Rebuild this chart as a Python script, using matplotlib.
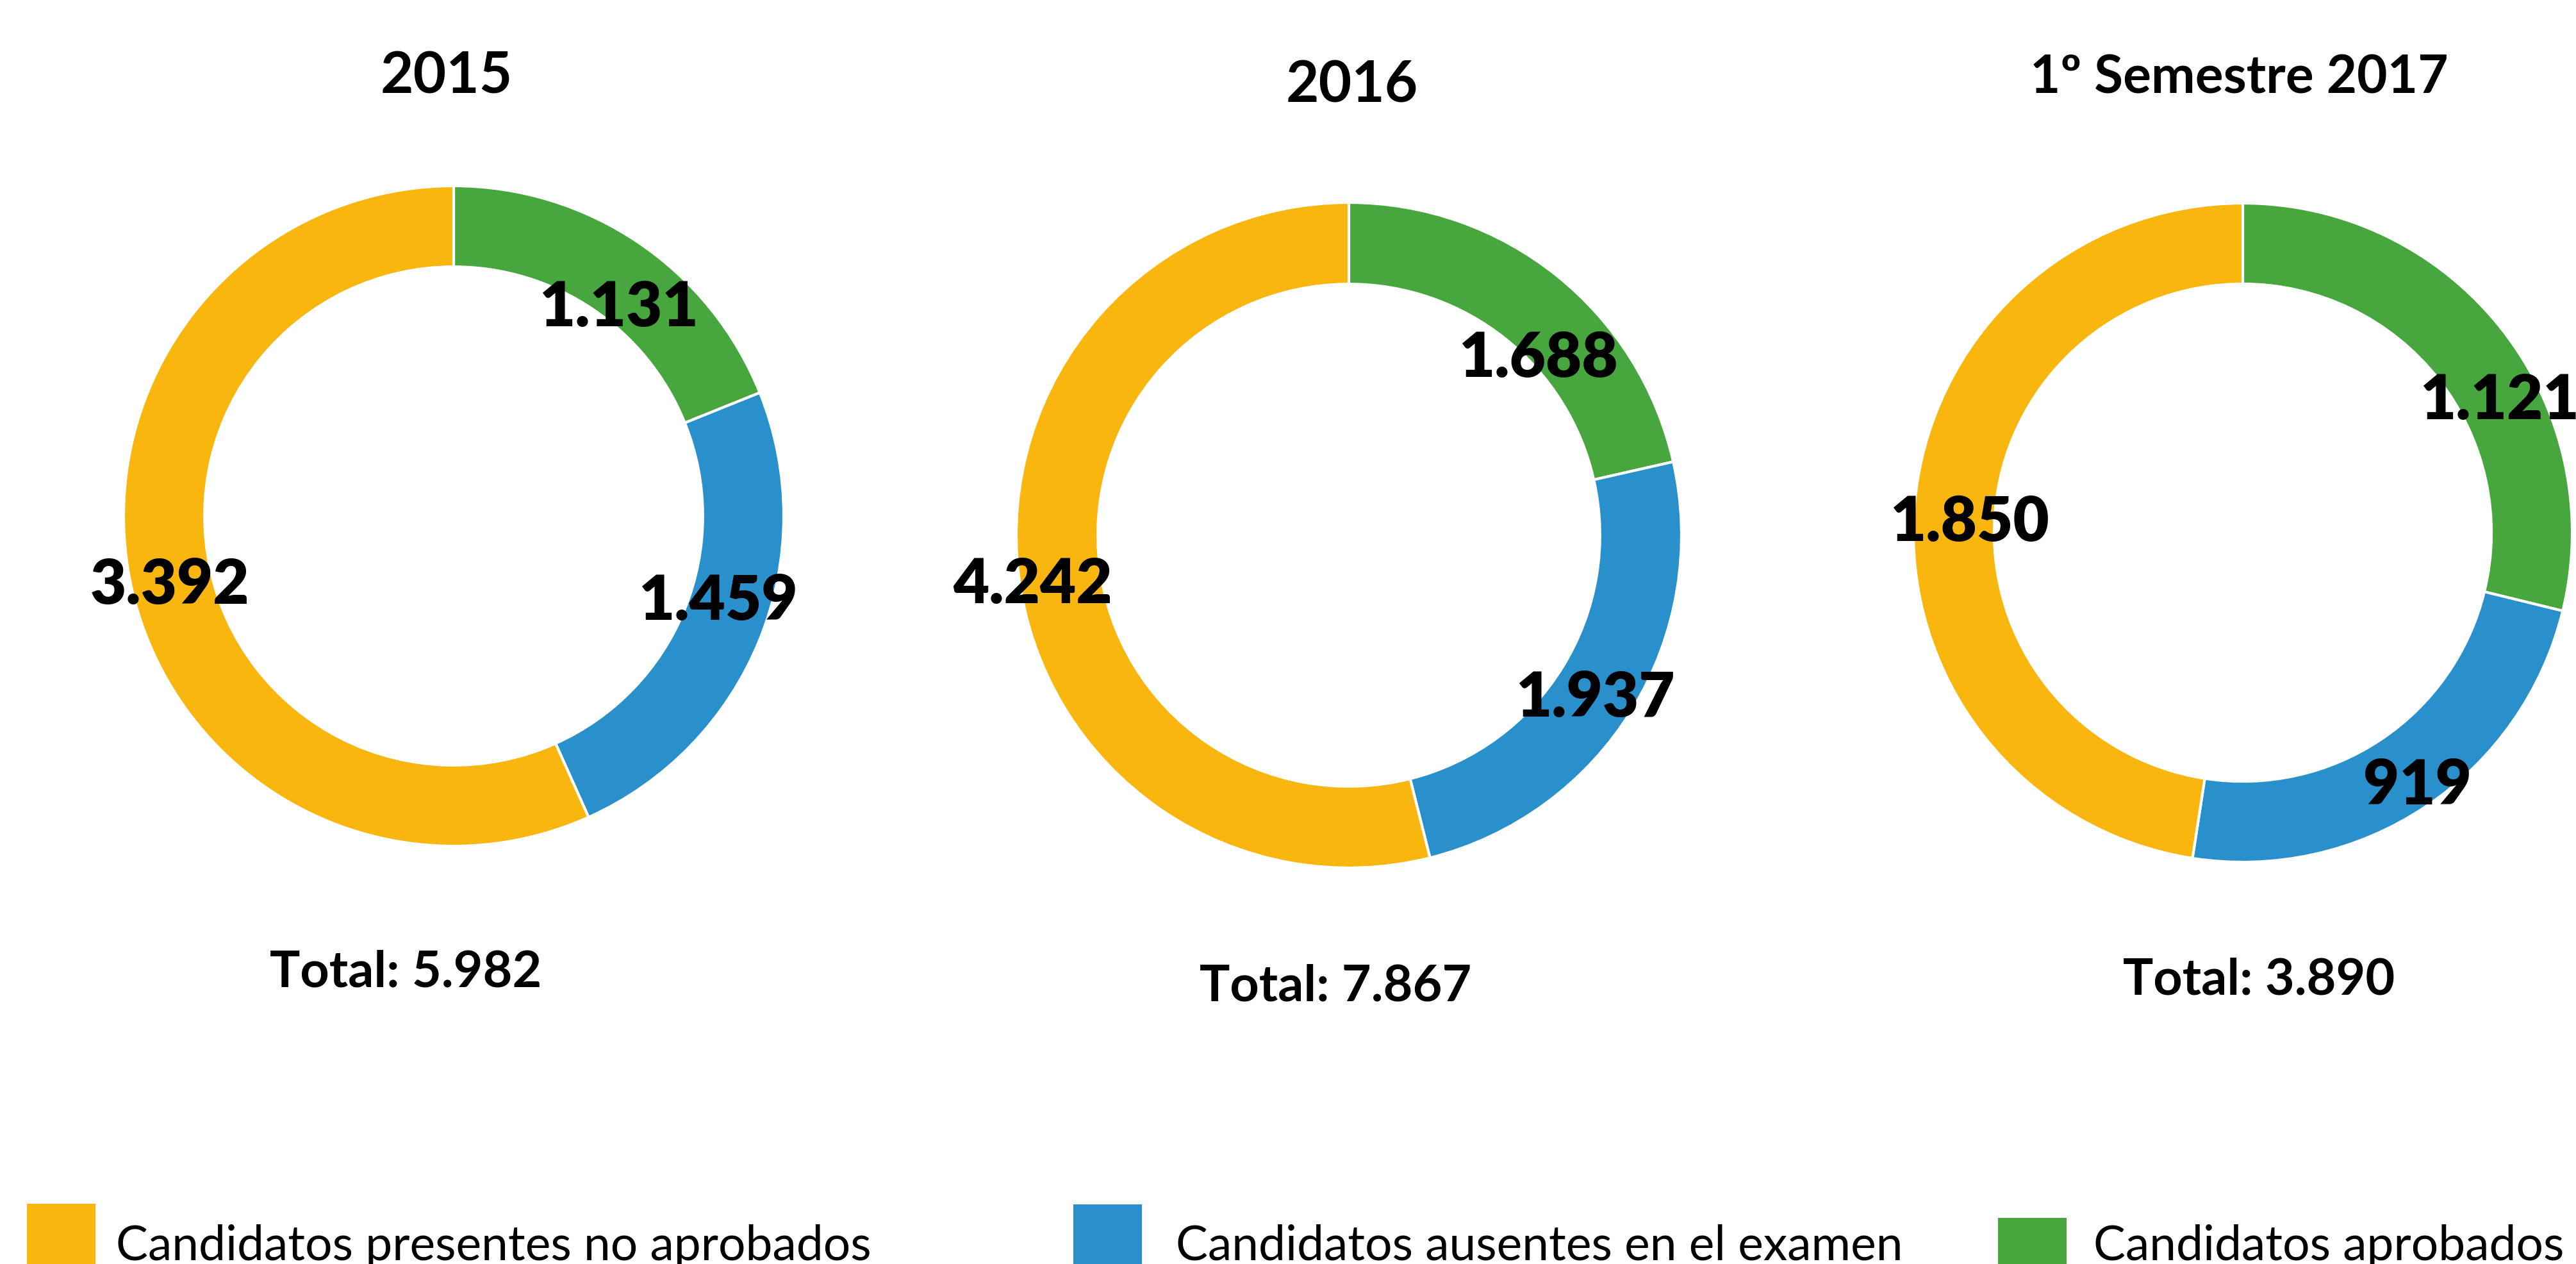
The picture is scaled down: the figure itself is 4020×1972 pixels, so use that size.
import matplotlib
matplotlib.use('Agg')
import matplotlib.pyplot as plt
from matplotlib.patches import Rectangle

plt.rcParams['font.family'] = ['Lato', 'DejaVu Sans']

# datos
periodos = ['2015', '2016', '1º Semestre 2017']
categorias = ['Candidatos aprobados', 'Candidatos ausentes en el examen',
              'Candidatos presentes no aprobados']
aprobados = [1131, 1688, 1121]
ausentes = [1459, 1937, 919]
no_aprobados = [3392, 4242, 1850]
colores = ['#48A63E', '#2A90CB', '#F8B60F']

W, H = 4020, 1972

# centro (px) y radio (px) de cada anillo
centros = [(708, 805, 515), (2105, 835, 519), (3500, 831, 514)]
# posicion de las etiquetas, en radios, para aprobados / ausentes / no aprobados
pos_etiquetas = [
    [(0.50, 0.63), (0.80, -0.26), (-0.86, -0.21)],
    [(0.57, 0.53), (0.74, -0.49), (-0.95, -0.15)],
    [(0.78, 0.40), (0.53, -0.77), (-0.83, 0.03)],
]
pos_titulos = [(697, 120), (2110, 133), (3494, 122)]
tam_titulos = [64, 64, 59]
pos_totales = [(633, 1518), (2084, 1540), (3525, 1530)]


def fmt(n):
    return '{:,}'.format(n).replace(',', '.')


fig = plt.figure(figsize=(W / 100, H / 100), dpi=100)

for i in range(len(periodos)):
    cx, cy, r = centros[i]
    ax = fig.add_axes([(cx - r) / W, 1 - (cy + r) / H, 2 * r / W, 2 * r / H])
    vals = [aprobados[i], ausentes[i], no_aprobados[i]]
    ax.pie(vals, colors=colores, startangle=90, counterclock=False,
           wedgeprops=dict(width=0.245, edgecolor='white', linewidth=3))
    ax.set_xlim(-1, 1)
    ax.set_ylim(-1, 1)
    ax.axis('off')
    for v, (x, y) in zip(vals, pos_etiquetas[i]):
        ax.text(x, y, fmt(v), ha='center', va='center', fontsize=70,
                fontweight='heavy', color='black', clip_on=False)

    tx, ty = pos_titulos[i]
    fig.text(tx / W, 1 - ty / H, periodos[i], ha='center', va='center',
             fontsize=tam_titulos[i], fontweight='bold')
    tx, ty = pos_totales[i]
    fig.text(tx / W, 1 - ty / H, 'Total: ' + fmt(sum(vals)), ha='center',
             va='center', fontsize=57, fontweight='bold')

# leyenda (cuadro x, cuadro y superior, texto x)
ley = [(3118, 1900, 3267), (1675, 1879, 1835), (42, 1878, 181)]
for (px, py, tx), cat, col in zip(ley, categorias, colores):
    fig.add_artist(Rectangle((px / W, 1 - (py + 107) / H), 107 / W, 107 / H,
                             transform=fig.transFigure, color=col, lw=0))
    fig.text(tx / W, 1 - 1966 / H, cat, ha='left', va='baseline', fontsize=54)

fig.savefig('out.png', dpi=100, facecolor='white')
